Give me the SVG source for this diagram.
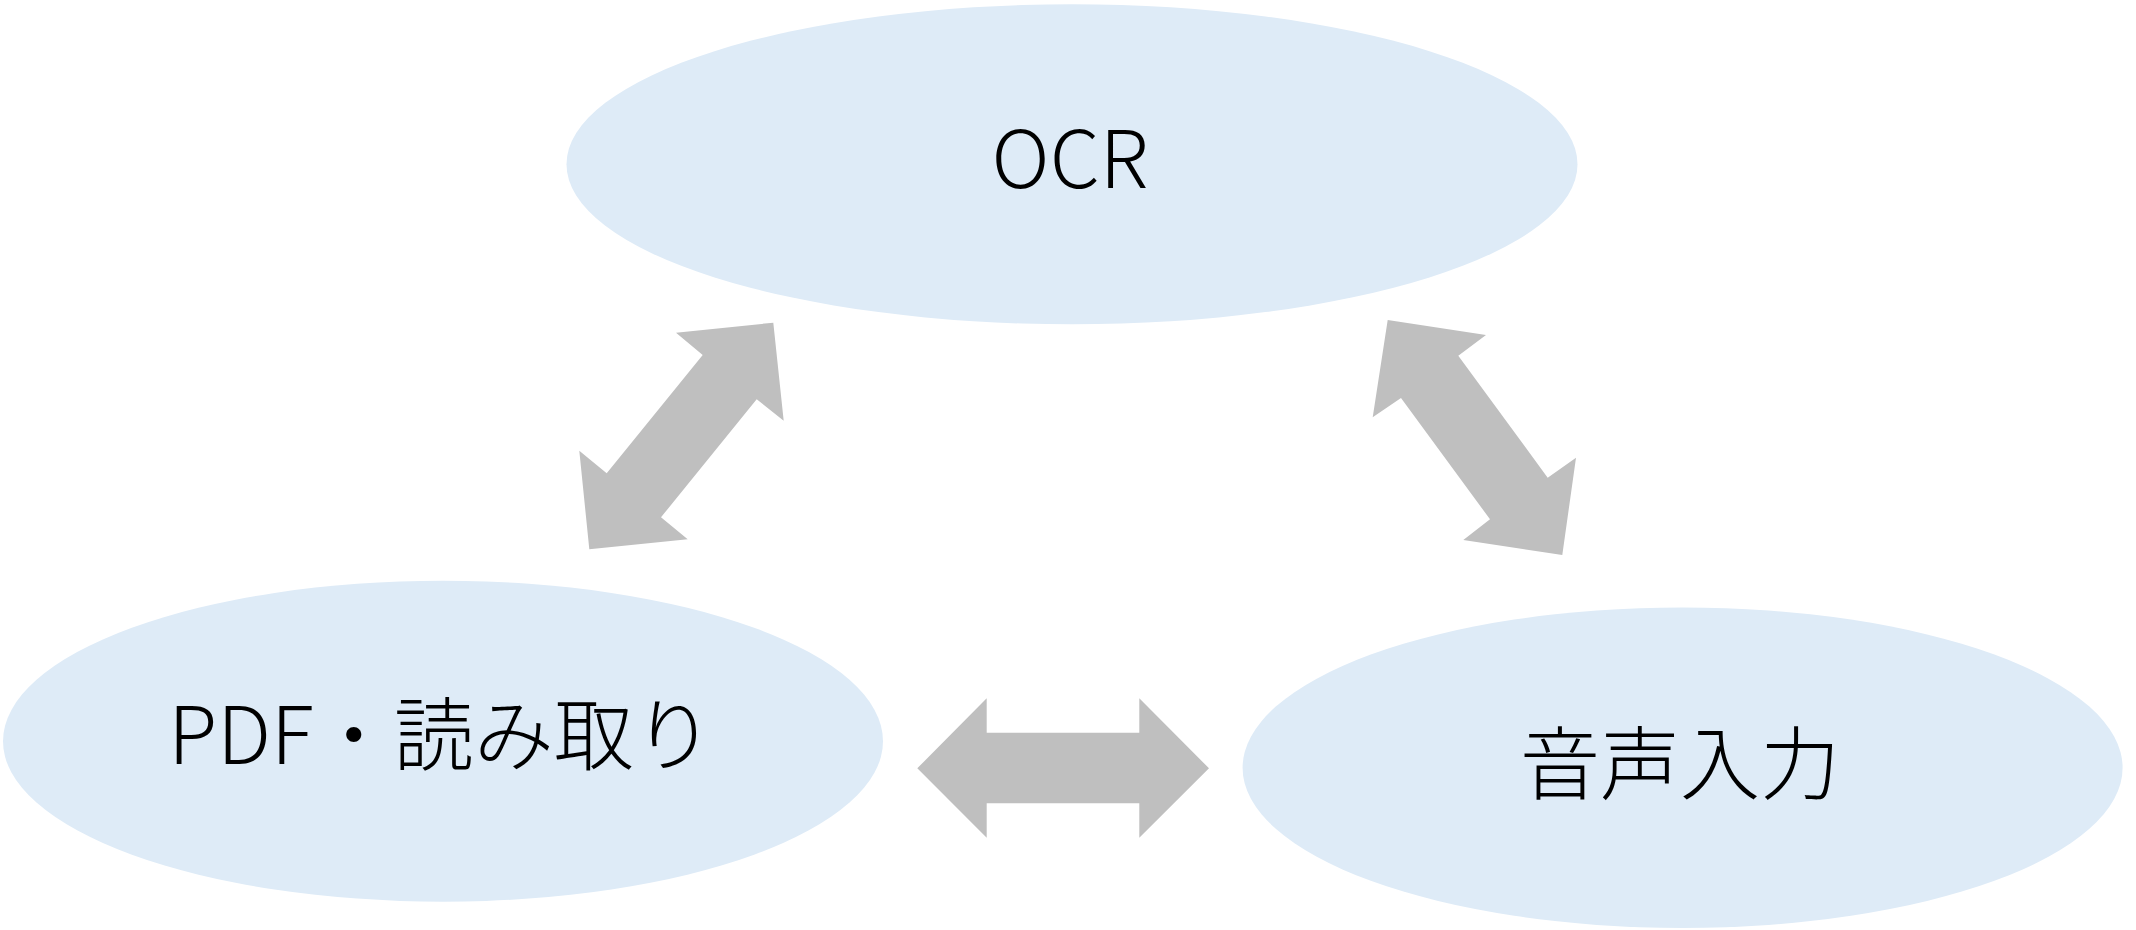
<svg xmlns="http://www.w3.org/2000/svg" width="2136" height="930" viewBox="0 0 2136 930">
  <style>
    .node { fill: #DEEBF7; }
    .label { font-family: "Noto Sans CJK JP", "Noto Sans", "Liberation Sans", sans-serif; font-size: 80px; font-weight: 300; fill: #000000; text-anchor: middle; }
    .link { fill: #BFBFBF; }
  </style>
  <rect width="2136" height="930" fill="#FFFFFF"/>

  <g id="connectors">
    <!-- OCR <-> PDF -->
    <polygon class="link" points="589.3,549.3 579.3,450.7 606.7,473.3 702.7,355 676,332.7 773.3,322.7 783.7,420.7 756.7,399.3 661,517.3 687.7,539.3"/>
    <!-- OCR <-> voice input -->
    <polygon class="link" points="1387.7,320 1486,335 1458.3,355.7 1547.7,477.7 1576,457.7 1562.3,555 1463.3,540 1490,519.3 1401,398 1372.7,417.3"/>
    <!-- PDF <-> voice input -->
    <polygon class="link" points="917.3,768.3 986.7,698.3 986.7,732.7 1139.3,732.7 1139.3,698.3 1209,768.3 1139.3,837.7 1139.3,803.3 986.7,803.3 986.7,837.7"/>
  </g>

  <g id="node-ocr">
    <ellipse class="node" cx="1072" cy="164.3" rx="505.5" ry="160"/>
    <text class="label" x="1070" y="188">OCR</text>
  </g>

  <g id="node-pdf">
    <ellipse class="node" cx="443" cy="741.2" rx="440" ry="160.5"/>
    <text class="label" x="441" y="764">PDF・読み取り</text>
  </g>

  <g id="node-voice">
    <ellipse class="node" cx="1682.6" cy="767.7" rx="440" ry="160.3"/>
    <text class="label" x="1680" y="793" font-size="78">音声入力</text>
  </g>
</svg>
